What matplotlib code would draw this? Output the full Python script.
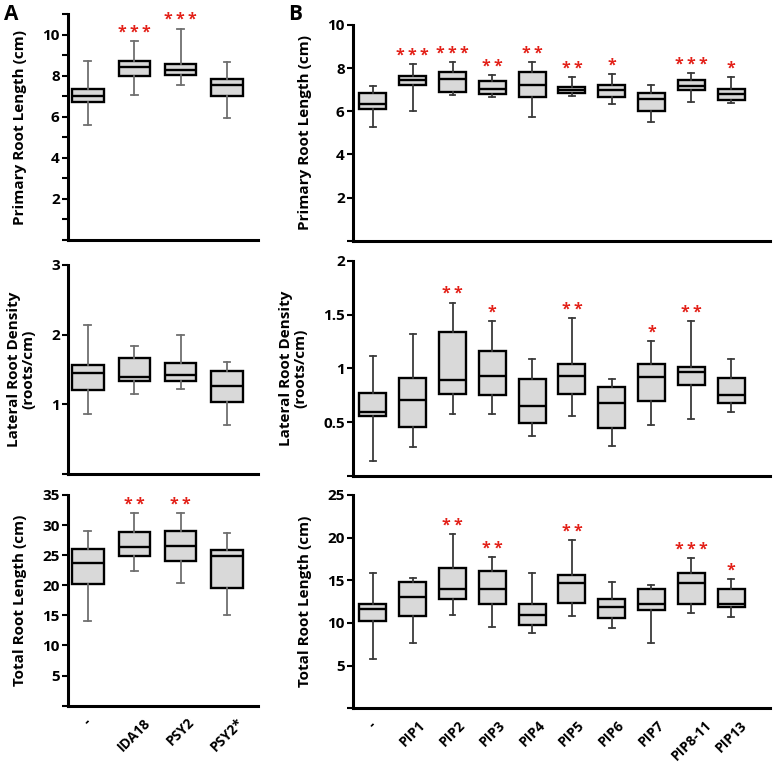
import matplotlib.pyplot as plt

plt.rcParams['font.family'] = ['Open Sans', 'DejaVu Sans']
plt.rcParams['font.weight'] = 'bold'

# Panel A data: whisker low, Q1, median, Q3, whisker high
a_groups = ["-", "IDA18", "PSY2", "PSY2*"]
a_primary = [
    [5.58, 6.70, 7.02, 7.35, 8.70],
    [7.07, 8.00, 8.40, 8.70, 9.67],
    [7.55, 8.05, 8.29, 8.59, 10.28],
    [5.93, 7.00, 7.53, 7.85, 8.65],
]
a_lateral = [
    [0.86, 1.21, 1.45, 1.57, 2.14],
    [1.15, 1.33, 1.39, 1.66, 1.84],
    [1.22, 1.34, 1.42, 1.59, 2.00],
    [0.70, 1.04, 1.27, 1.48, 1.61],
]
a_total = [
    [14.1, 20.2, 23.7, 26.0, 29.0],
    [22.4, 24.8, 26.4, 28.9, 32.0],
    [20.4, 24.0, 26.6, 29.0, 32.0],
    [15.0, 19.6, 24.8, 25.9, 28.7],
]
a_primary_stars = ["", "***", "***", ""]
a_lateral_stars = ["", "", "", ""]
a_total_stars = ["", "**", "**", ""]

# Panel B data
b_groups = ["-", "PIP1", "PIP2", "PIP3", "PIP4", "PIP5", "PIP6", "PIP7",
            "PIP8-11", "PIP13"]
b_primary = [
    [5.27, 6.12, 6.34, 6.83, 7.17],
    [6.01, 7.20, 7.45, 7.65, 8.18],
    [6.75, 6.91, 7.48, 7.81, 8.28],
    [6.65, 6.82, 7.03, 7.40, 7.67],
    [5.72, 6.68, 7.20, 7.81, 8.28],
    [6.72, 6.83, 6.99, 7.11, 7.57],
    [6.32, 6.65, 6.99, 7.20, 7.73],
    [5.50, 6.03, 6.55, 6.83, 7.22],
    [6.42, 6.97, 7.17, 7.44, 7.76],
    [6.37, 6.54, 6.79, 7.02, 7.57],
]
b_lateral = [
    [0.14, 0.56, 0.60, 0.77, 1.12],
    [0.27, 0.46, 0.71, 0.91, 1.32],
    [0.58, 0.76, 0.89, 1.34, 1.61],
    [0.58, 0.75, 0.93, 1.16, 1.44],
    [0.375, 0.49, 0.65, 0.90, 1.09],
    [0.56, 0.76, 0.93, 1.04, 1.47],
    [0.28, 0.45, 0.68, 0.83, 0.905],
    [0.47, 0.70, 0.92, 1.04, 1.26],
    [0.53, 0.85, 0.97, 1.01, 1.44],
    [0.60, 0.68, 0.75, 0.91, 1.09],
]
b_total = [
    [5.74, 10.2, 11.6, 12.2, 15.8],
    [7.7, 10.8, 13.1, 14.77, 15.3],
    [10.97, 12.8, 13.95, 16.5, 20.4],
    [9.5, 12.2, 13.95, 16.1, 17.7],
    [8.8, 9.77, 10.9, 12.26, 15.8],
    [10.8, 12.4, 14.73, 15.6, 19.7],
    [9.38, 10.55, 11.87, 12.85, 14.85],
    [7.65, 11.5, 12.26, 13.98, 14.45],
    [11.2, 12.26, 14.7, 15.9, 17.6],
    [10.74, 11.84, 12.2, 14.0, 15.2],
]
b_primary_stars = ["", "***", "***", "**", "**", "**", "*", "", "***", "*"]
b_lateral_stars = ["", "", "**", "*", "", "**", "", "*", "**", ""]
b_total_stars = ["", "", "**", "**", "", "**", "", "", "***", "*"]


def to_stats(rows):
    return [dict(whislo=r[0], q1=r[1], med=r[2], q3=r[3], whishi=r[4])
            for r in rows]


def draw(ax, rows, stars, ylim, yticks, ylabels, xlim, whisk_color):
    pos = list(range(1, len(rows) + 1))
    ax.bxp(to_stats(rows), positions=pos, widths=0.68, showfliers=False,
           patch_artist=True,
           boxprops=dict(facecolor='#d9d9d9', edgecolor='black', linewidth=1.7),
           medianprops=dict(color='black', linewidth=1.7),
           whiskerprops=dict(color=whisk_color, linewidth=1.3),
           capprops=dict(color=whisk_color, linewidth=1.3),
           capwidths=0.15)
    rng = ylim[1] - ylim[0]
    for p, r, s in zip(pos, rows, stars):
        if s:
            # spaced asterisks like the original figure
            ax.text(p, r[4] + 0.002 * rng, "\u2009".join(s), color='#e32119',
                    fontsize=11.5, ha='center', va='bottom', fontweight='bold')
    ax.set_ylim(*ylim)
    ax.set_xlim(*xlim)
    ax.set_yticks(yticks, ylabels)
    ax.spines['top'].set_visible(False)
    ax.spines['right'].set_visible(False)
    ax.spines['left'].set_linewidth(2.2)
    ax.spines['bottom'].set_linewidth(2.2)
    ax.tick_params(axis='y', labelsize=11, width=1.5, length=4, pad=2)
    ax.tick_params(axis='x', length=0, pad=7)
    ax.set_xticks(pos, [""] * len(pos))


fig = plt.figure(figsize=(7.74, 7.71), dpi=100)

a_xlim = (0.57, 4.67)
b_xlim = (0.5, 10.98)
lab = dict(fontsize=11, fontweight='bold', labelpad=11)

ax = fig.add_axes([0.0879, 0.6887, 0.2455, 0.2931])
draw(ax, a_primary, a_primary_stars, (0, 11), range(0, 12),
     ["", "", "2", "", "4", "", "6", "", "8", "", "10", ""], a_xlim, '#6f6f6f')
ax.set_ylabel("Primary Root Length (cm)", **lab)

ax = fig.add_axes([0.0879, 0.3852, 0.2455, 0.2711])
draw(ax, a_lateral, a_lateral_stars, (0, 3), [0, 1, 2, 3],
     ["", "1", "2", "3"], a_xlim, '#6f6f6f')
ax.set_ylabel("Lateral Root Density\n(roots/cm)", linespacing=1.1, **lab)

ax = fig.add_axes([0.0879, 0.0847, 0.2455, 0.2733])
draw(ax, a_total, a_total_stars, (0, 35), range(0, 40, 5),
     ["", "5", "10", "15", "20", "25", "30", "35"], a_xlim, '#6f6f6f')
ax.set_ylabel("Total Root Length (cm)", **lab)
ax.set_xticks(range(1, 5), a_groups, rotation=45, ha='center',
              fontsize=10, fontweight='bold')

ax = fig.add_axes([0.4561, 0.6878, 0.5388, 0.2798])
draw(ax, b_primary, b_primary_stars, (0, 10), range(0, 12, 2),
     ["", "2", "4", "6", "8", "10"], b_xlim, '#3a3a3a')
ax.set_ylabel("Primary Root Length (cm)", **lab)

ax = fig.add_axes([0.4561, 0.3826, 0.5388, 0.2789])
draw(ax, b_lateral, b_lateral_stars, (0, 2), [0, 0.5, 1, 1.5, 2],
     ["", "0.5", "1", "1.5", "2"], b_xlim, '#3a3a3a')
ax.set_ylabel("Lateral Root Density\n(roots/cm)", linespacing=1.1, **lab)

ax = fig.add_axes([0.4561, 0.0813, 0.5388, 0.2767])
draw(ax, b_total, b_total_stars, (0, 25), range(0, 30, 5),
     ["", "5", "10", "15", "20", "25"], b_xlim, '#3a3a3a')
ax.set_ylabel("Total Root Length (cm)", **lab)
ax.set_xticks(range(1, 11), b_groups, rotation=45, ha='center',
              fontsize=10, fontweight='bold')

fig.text(0.005, 0.995, "A", fontsize=15, fontweight='bold', va='top')
fig.text(0.372, 0.995, "B", fontsize=15, fontweight='bold', va='top')

plt.savefig('out.png', dpi=100)
